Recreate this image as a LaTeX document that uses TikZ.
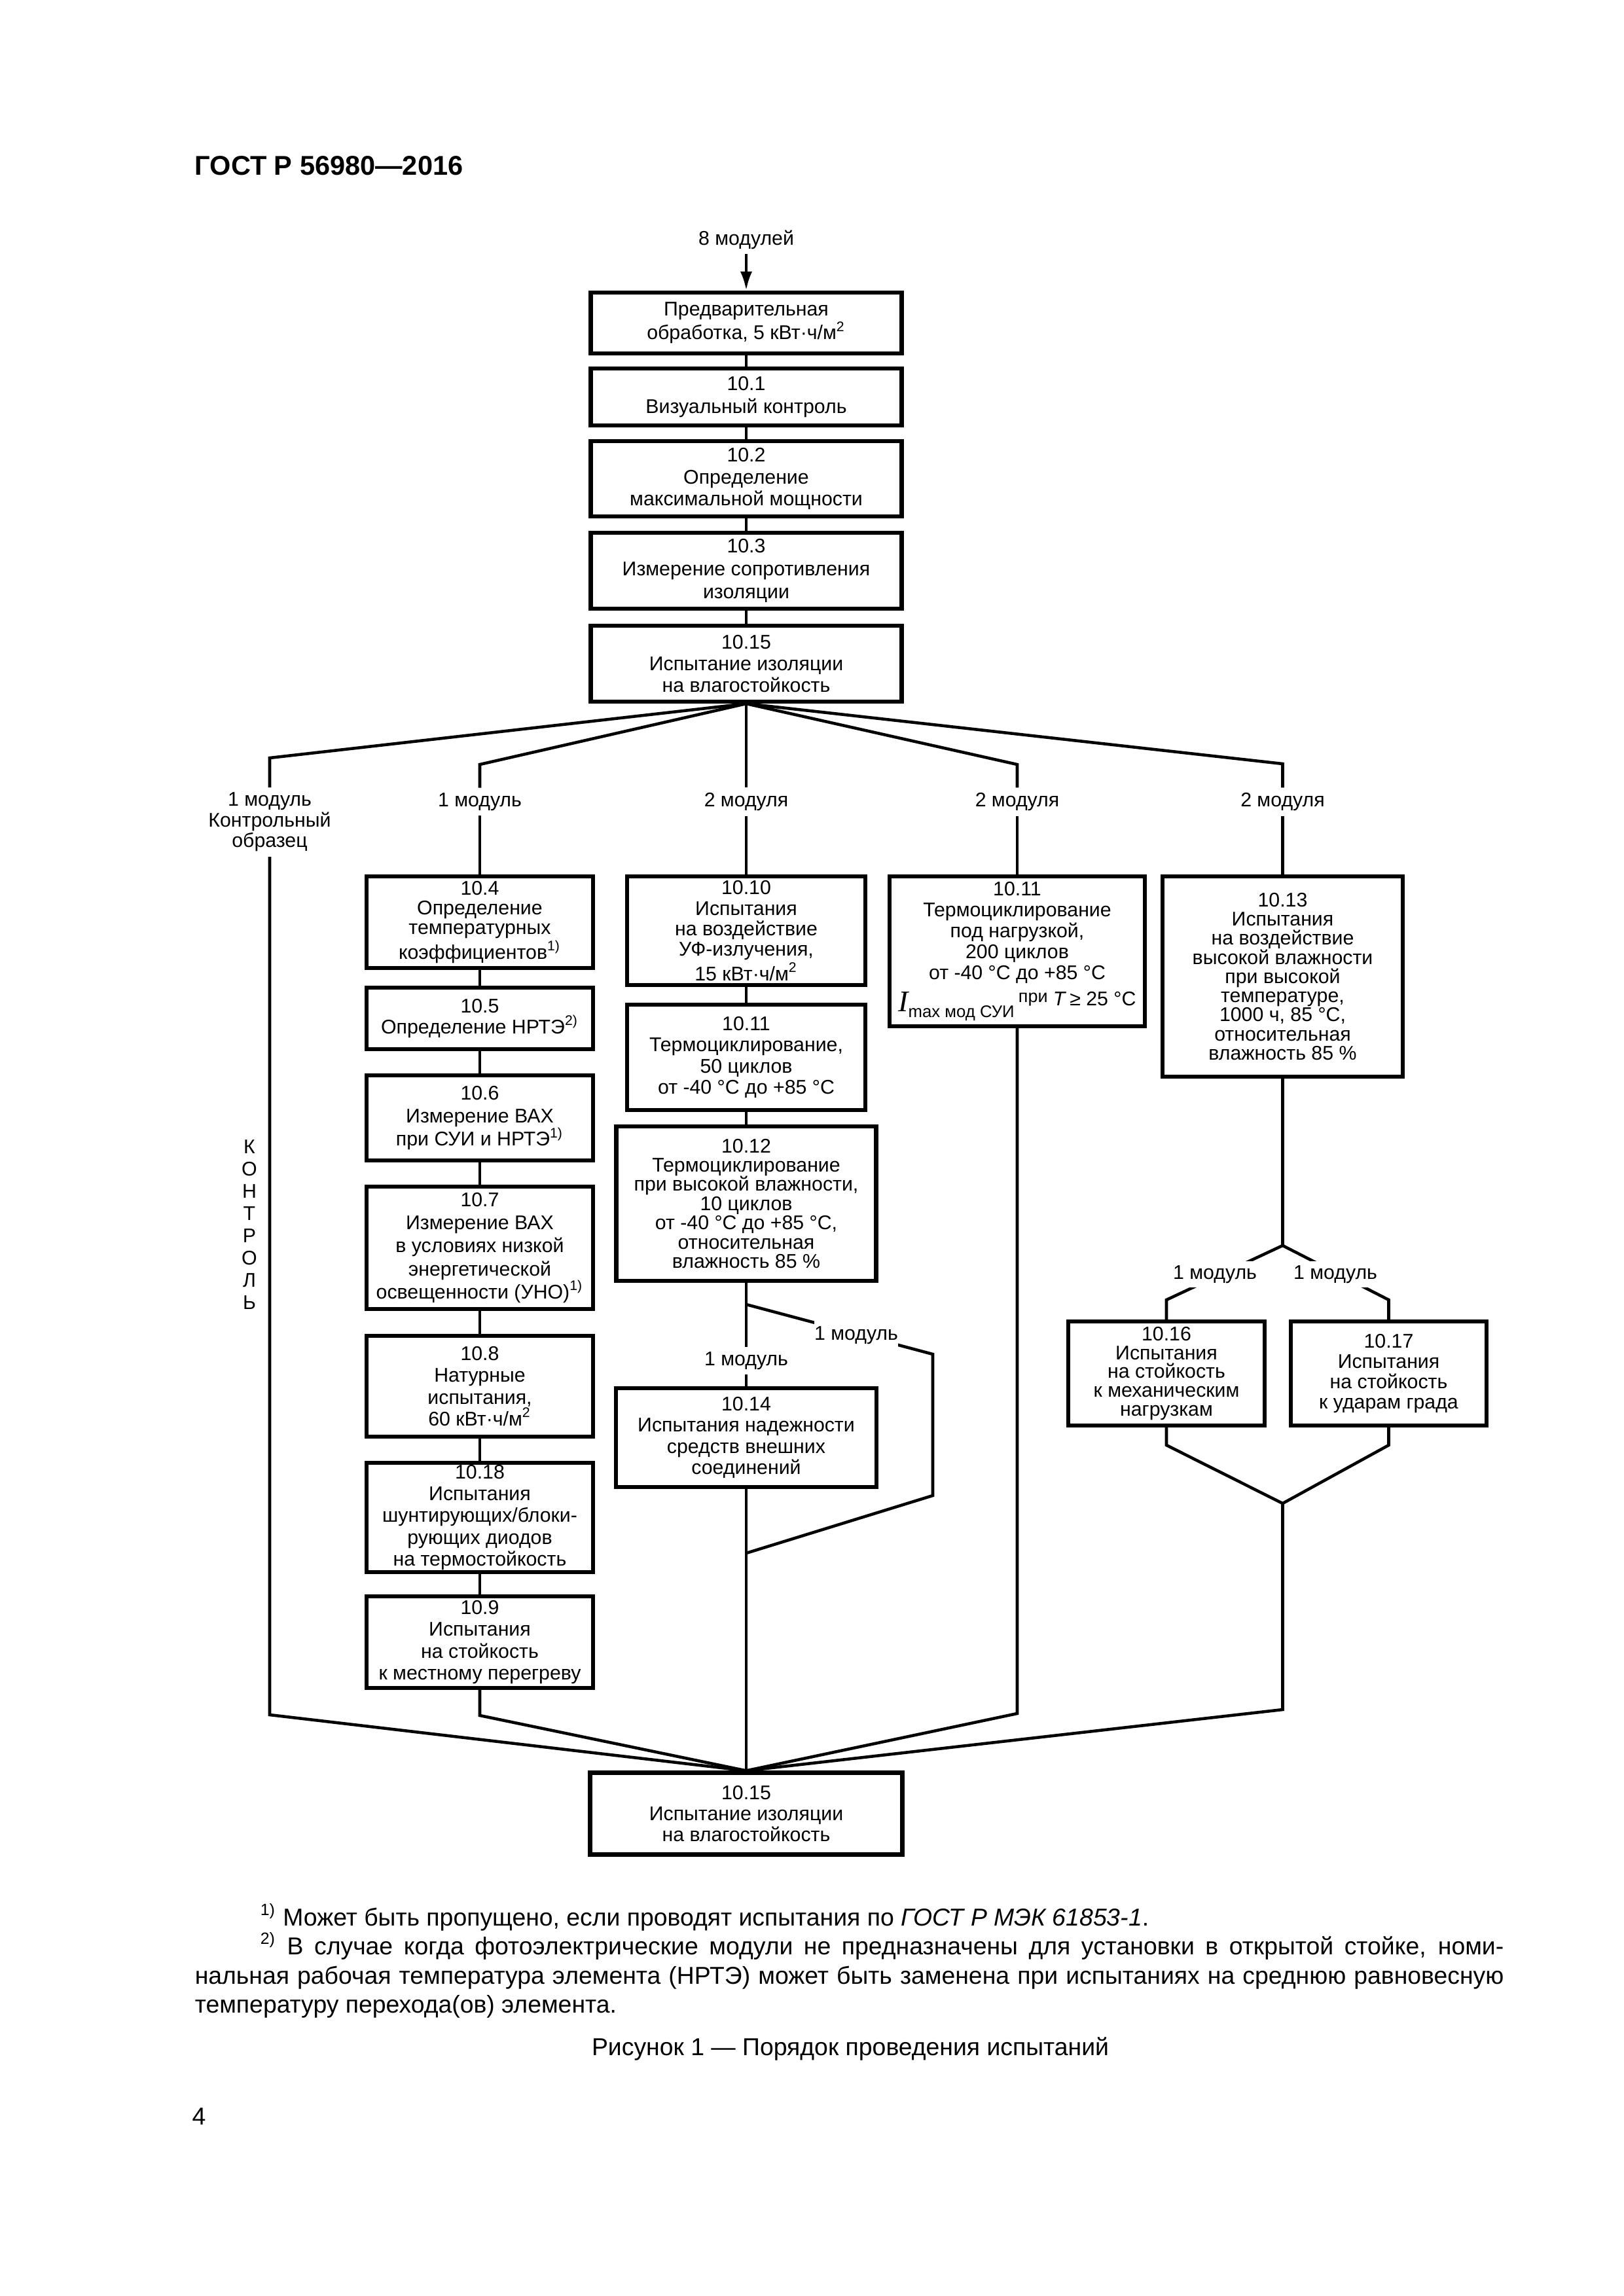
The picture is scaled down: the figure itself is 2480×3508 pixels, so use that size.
\documentclass[tikz,border=0pt]{standalone}
\usepackage{fontspec}
\setmainfont{Liberation Sans}
\newfontfamily\serifit{Liberation Serif}
\usetikzlibrary{arrows.meta}
\def\PX{0.24090pt}
\newcommand{\bxfont}[1]{\fontsize{7.3}{#1}\selectfont}
\begin{document}
\begin{tikzpicture}[x=0.0084667cm,y=-0.0084667cm,
  box/.style={draw, line width=1.5pt, inner sep=0pt, align=center},
  bsz/.style 2 args={minimum width=#1*\PX, minimum height=#2*\PX},
  lead/.style={font=\bxfont{#1}},
  conn/.style={line width=1.1pt},
  lbl/.style={inner xsep=0pt, inner ysep=1.7pt, align=center, font=\bxfont{7.6}},
  onlbl/.style={lbl, fill=white},
  foot/.style={anchor=base west, inner sep=0pt, font=\fontsize{9}{10.8}\selectfont}
]
\fill[white] (0,0) rectangle (2480,3508);
\path[use as bounding box] (0,0) rectangle (2480,3508);

% header
\node[anchor=west, inner sep=0pt, font=\bfseries\fontsize{10}{12}\selectfont] (hdr) at (297,253) {ГОСТ Р 56980—2016};

% main column
\node[lbl] (l8) at (1140,366) {8 модулей};
\node[box, bsz={475}{93}, lead=8.6] (P) at (1140,493.5) {Предварительная\\обработка, 5 кВт·ч/м\textsuperscript{2}};
\node[box, bsz={475}{87}, lead=8.3] (f101) at (1140,606.5) {10.1\\Визуальный контроль};
\node[box, bsz={475}{115}, lead=8] (f102) at (1140,731.5) {10.2\\Определение\\максимальной мощности};
\node[box, bsz={475}{116}, lead=8.5] (f103) at (1140,872) {10.3\\Измерение сопротивления\\изоляции};
\node[box, bsz={475}{116}, lead=7.9] (f15a) at (1140,1014) {10.15\\Испытание изоляции\\на влагостойкость};

% branch labels
\node[lbl] (lA) at (412,1256) {1 модуль\\Контрольный\\образец};
\node[lbl] (lB) at (733,1225) {1 модуль};
\node[lbl] (lC) at (1140,1225) {2 модуля};
\node[lbl] (lD) at (1554,1225) {2 модуля};
\node[lbl] (lE) at (1959.5,1225) {2 модуля};

% column B
\node[box, bsz={346}{140}, lead=7.2] (n104) at (733,1409) {10.4\\Определение\\температурных\\коэффициентов\textsuperscript{1)}};
\node[box, bsz={346}{94}, lead=7.5] (n105) at (733,1556) {10.5\\Определение НРТЭ\textsuperscript{2)}};
\node[box, bsz={346}{130}, lead=8.5] (n106) at (733,1708) {10.6\\Измерение ВАХ\\при СУИ и НРТЭ\textsuperscript{1)}};
\node[box, bsz={346}{187}, lead=8.5] (n107) at (733,1906.5) {10.7\\Измерение ВАХ\\в условиях низкой\\энергетической\\освещенности (УНО)\textsuperscript{1)}};
\node[box, bsz={346}{154}, lead=8] (n108) at (733,2118) {10.8\\Натурные\\испытания,\\60 кВт·ч/м\textsuperscript{2}};
\node[box, bsz={346}{167}, lead=8] (n1018) at (733,2318.5) {10.18\\Испытания\\шунтирующих/блоки-\\рующих диодов\\на термостойкость};
\node[box, bsz={346}{140}, lead=8] (n109) at (733,2509) {10.9\\Испытания\\на стойкость\\к местному перегреву};

% column C
\node[box, bsz={364}{166}, lead=7.5] (n1010) at (1140,1422) {10.10\\Испытания\\на воздействие\\УФ-излучения,\\15 кВт·ч/м\textsuperscript{2}};
\node[box, bsz={364}{161}, lead=7.8] (n1011a) at (1140,1615.5) {10.11\\Термоциклирование,\\50 циклов\\от -40 °C до +85 °C};
\node[box, bsz={397}{236}, lead=7.1] (n1012) at (1140,1839) {10.12\\Термоциклирование\\при высокой влажности,\\10 циклов\\от -40 °C до +85 °C,\\относительная\\влажность 85 \%};
\node[box, bsz={398}{151}, lead=7.8] (n1014) at (1140,2196.5) {10.14\\Испытания надежности\\средств внешних\\соединений};

% column D
\node[box, bsz={390}{229}, lead=7.7] (n1011b) at (1554,1453.5) {10.11\\Термоциклирование\\под нагрузкой,\\200 циклов\\от -40 °C до +85 °C\\[2pt]\raisebox{-2.2pt}{\serifit\itshape\fontsize{11}{11}\selectfont I}\raisebox{-4.2pt}{\fontsize{6.2}{7}\selectfont max мод СУИ}\hspace{1.5pt}\raisebox{1.4pt}{\fontsize{6.5}{7}\selectfont при} \textit{T}\,≥ 25 °C};

% column E
\node[box, bsz={367}{306}, lead=7.05] (n1013) at (1959.5,1492) {10.13\\Испытания\\на воздействие\\высокой влажности\\при высокой\\температуре,\\1000 ч, 85 °C,\\относительная\\влажность 85 \%};
\node[box, bsz={300}{159}, lead=6.9] (n1016) at (1782,2098.5) {10.16\\Испытания\\на стойкость\\к механическим\\нагрузкам};
\node[box, bsz={299}{159}, lead=7.5] (n1017) at (2121.5,2098.5) {10.17\\Испытания\\на стойкость\\к ударам града};

% final
\node[box, bsz={477}{125}, lead=7.7] (fin) at (1140,2771) {10.15\\Испытание изоляции\\на влагостойкость};

% control text
\node[inner sep=0pt, align=center, font=\bxfont{8.2}] (ktrl) at (381,1871) {К\\О\\Н\\Т\\Р\\О\\Л\\Ь};

% coordinates
\coordinate (cA) at (412,1158);
\coordinate (cB) at (733,1168);
\coordinate (cD) at (1554,1168);
\coordinate (cE) at (1959.5,1167);
\coordinate (bA) at (412,2620);
\coordinate (bB) at (733,2621);
\coordinate (bD) at (1554,2618);
\coordinate (bE) at (1959.5,2612);
\coordinate (sb0) at (1140,1993);
\coordinate (sb1) at (1425,2069);
\coordinate (sb2) at (1425,2285);
\coordinate (sb3) at (1140,2373);
\coordinate (fE) at (1959.5,1903);
\coordinate (e1) at (1782,1986);
\coordinate (e2) at (2121.5,1986);
\coordinate (g1) at (1782,2208);
\coordinate (g2) at (2121.5,2208);
\coordinate (jE) at (1959.5,2297);

% connectors main
\draw[conn, -{Latex[length=7pt,width=4.4pt]}] (l8.south) -- (P.north);
\draw[conn] (P.south) -- (f101.north);
\draw[conn] (f101.south) -- (f102.north);
\draw[conn] (f102.south) -- (f103.north);
\draw[conn] (f103.south) -- (f15a.north);

% fan out
\draw[conn] (f15a.south) -- (cA) -- (lA.north);
\draw[conn] (f15a.south) -- (cB) -- (lB.north);
\draw[conn] (f15a.south) -- (lC.north);
\draw[conn] (f15a.south) -- (cD) -- (lD.north);
\draw[conn] (f15a.south) -- (cE) -- (lE.north);
\draw[conn] (lB.south) -- (n104.north);
\draw[conn] (lC.south) -- (n1010.north);
\draw[conn] (lD.south) -- (n1011b.north);
\draw[conn] (lE.south) -- (n1013.north);

% column B chain
\draw[conn] (n104.south) -- (n105.north);
\draw[conn] (n105.south) -- (n106.north);
\draw[conn] (n106.south) -- (n107.north);
\draw[conn] (n107.south) -- (n108.north);
\draw[conn] (n108.south) -- (n1018.north);
\draw[conn] (n1018.south) -- (n109.north);

% column C chain
\draw[conn] (n1010.south) -- (n1011a.north);
\draw[conn] (n1011a.south) -- (n1012.north);
\node[lbl] (lC2) at (1140,2079) {1 модуль};
\draw[conn] (n1012.south) -- (lC2.north);
\draw[conn] (lC2.south) -- (n1014.north);
\draw[conn] (sb0) -- (sb1) -- (sb2) -- (sb3);
\node[onlbl, inner ysep=2pt] (lS) at (1308,2040) {1 модуль};

% column E fork
\draw[conn] (n1013.south) -- (fE);
\draw[conn] (fE) -- (e1) -- (n1016.north);
\draw[conn] (fE) -- (e2) -- (n1017.north);
\node[onlbl, inner ysep=1.5pt] (lE1) at (1856,1947) {1 модуль};
\node[onlbl, inner ysep=1.5pt] (lE2) at (2040,1947) {1 модуль};
\draw[conn] (n1016.south) -- (g1) -- (jE);
\draw[conn] (n1017.south) -- (g2) -- (jE);

% converge
\draw[conn] (lA.south) -- (bA) -- (fin.north);
\draw[conn] (n109.south) -- (bB) -- (fin.north);
\draw[conn] (n1014.south) -- (fin.north);
\draw[conn] (n1011b.south) -- (bD) -- (fin.north);
\draw[conn] (jE) -- (bE) -- (fin.north);

% footnotes
\node[foot] (fn1) at (397,2942) {\textsuperscript{1)} Может быть пропущено, если проводят испытания по \textit{ГОСТ Р МЭК 61853-1}.};
\node[foot] (fn2) at (397,2986) {\makebox[457.7pt][s]{\textsuperscript{2)} В случае когда фотоэлектрические модули не предназначены для установки в открытой стойке, номи-}};
\node[foot] (fn3) at (297,3031) {\makebox[481.8pt][s]{нальная рабочая температура элемента (НРТЭ) может быть заменена при испытаниях на среднюю равновесную}};
\node[foot] (fn4) at (297,3075) {температуру перехода(ов) элемента.};
\node[inner sep=0pt, font=\fontsize{9}{10.8}\selectfont] (capt) at (1299,3130) {Рисунок 1 — Порядок проведения испытаний};
\node[inner sep=0pt, font=\fontsize{9}{10.8}\selectfont] (pg) at (304,3234) {4};
\end{tikzpicture}
\end{document}
